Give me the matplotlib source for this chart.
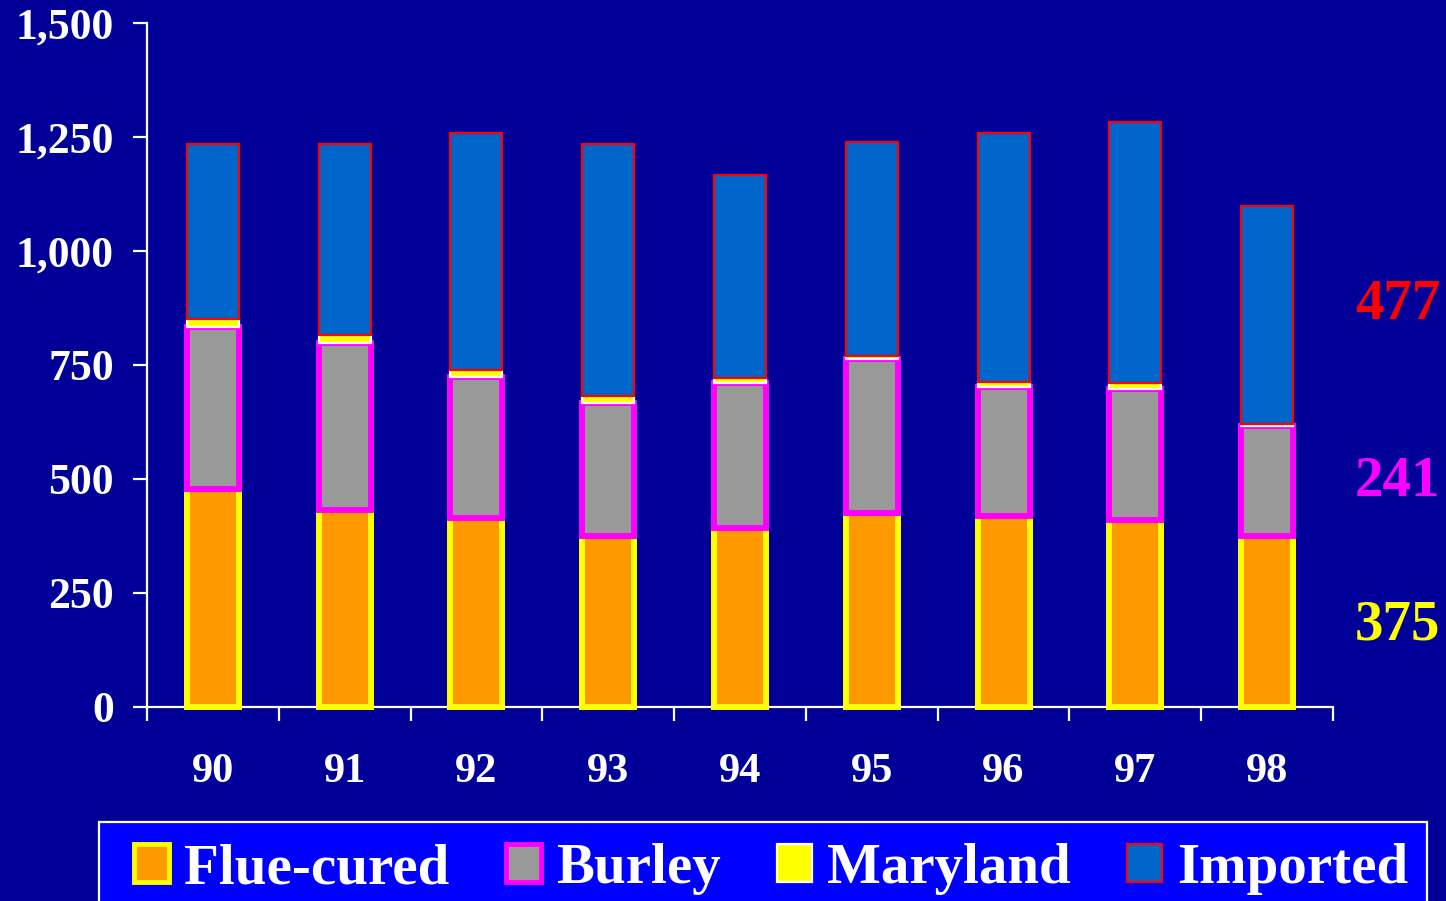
import matplotlib
matplotlib.use("Agg")
import matplotlib.pyplot as plt
from matplotlib.patches import Rectangle, Patch
import numpy as np

plt.rcParams['font.family'] = ['Liberation Serif', 'DejaVu Serif']
plt.rcParams['font.weight'] = 'bold'

years = ['90', '91', '92', '93', '94', '95', '96', '97', '98']
flue_cured = [477, 433, 414, 374, 392, 425, 418, 409, 375]
burley = [357, 366, 310, 292, 319, 339, 284, 289, 241]
maryland = [16, 16, 16, 16, 11, 6, 10, 12, 5]
imported = [384, 419, 519, 552, 445, 468, 547, 572, 477]
yticks = [0, 250, 500, 750, 1000, 1250, 1500]
ytick_labels = ['0', '250', '500', '750', '1,000', '1,250', '1,500']
series_names = ['Flue-cured', 'Burley', 'Maryland', 'Imported']

BG = '#000099'
W, H = 1446, 901
fig = plt.figure(figsize=(W / 100, H / 100), dpi=100, facecolor=BG)
ax = fig.add_axes([147 / W, 1 - 707 / H, (1333 - 147) / W, (707 - 23) / H])
ax.set_facecolor(BG)

x = np.arange(len(years))
bw = 0.395
styles = [
    dict(facecolor='#FF9900', edgecolor='#FFFF00', linewidth=4.3),
    dict(facecolor='#999999', edgecolor='#FF00FF', linewidth=4.3),
    dict(facecolor='#FFFF00', edgecolor='#FFFFFF', linewidth=1.6),
    dict(facecolor='#0066CC', edgecolor='#FF0000', linewidth=1.6),
]
bottom = np.zeros(len(years))
for vals, st in zip([flue_cured, burley, maryland, imported], styles):
    v = np.array(vals, dtype=float)
    ax.bar(x, v, bw, bottom=bottom, zorder=3, clip_on=False, **st)
    bottom += v

ax.set_xlim(-0.5, 8.5)
ax.set_ylim(0, 1500)

for s in ['top', 'right']:
    ax.spines[s].set_visible(False)
for s in ['left', 'bottom']:
    ax.spines[s].set_color('white')
    ax.spines[s].set_linewidth(1.6)

ax.set_yticks(yticks)
ax.set_yticklabels(ytick_labels)
ax.tick_params(axis='y', colors='white', direction='out', length=10, width=1.6,
               pad=14, labelsize=31.5)
ax.set_xticks(x)
ax.set_xticklabels(years)
ax.tick_params(axis='x', which='major', colors='white', length=0, pad=33, labelsize=30.5)
ax.set_xticks(np.arange(-0.5, 9.0, 1.0), minor=True)
ax.tick_params(axis='x', which='minor', colors='white', direction='out', length=10, width=1.6)
for lbl in ax.get_xticklabels() + ax.get_yticklabels():
    lbl.set_fontweight('bold')

# right-side annotations for 1998
ax.text(8.99, 882, f"{imported[-1]}", color='#FF0000', fontsize=41, fontweight='bold',
        ha='center', va='center', clip_on=False)
ax.text(8.99, 494, f"{burley[-1]}", color='#FF00FF', fontsize=41, fontweight='bold',
        ha='center', va='center', clip_on=False)
ax.text(8.99, 178, f"{flue_cured[-1]}", color='#FFFF00', fontsize=41, fontweight='bold',
        ha='center', va='center', clip_on=False)

# legend box
fig.patches.append(Rectangle((99 / W, -0.02), (1427 - 99) / W, (901 - 822) / H + 0.02,
                             transform=fig.transFigure, facecolor='#0000FF',
                             edgecolor='white', linewidth=1.6, zorder=0))
handles = [Patch(facecolor=st['facecolor'], edgecolor=st['edgecolor'],
                 linewidth=min(st['linewidth'], 3.5)) for st in styles]
leg = fig.legend(handles, series_names, loc='center left',
                 bbox_to_anchor=(134 / W, 1 - 869 / H), ncol=4, frameon=False,
                 fontsize=41, handlelength=0.62, handleheight=0.66,
                 handletextpad=0.26, columnspacing=0.99, borderpad=0, borderaxespad=0)
for t in leg.get_texts():
    t.set_color('white')
    t.set_fontweight('bold')

fig.savefig('out.png', dpi=100, facecolor=BG)
